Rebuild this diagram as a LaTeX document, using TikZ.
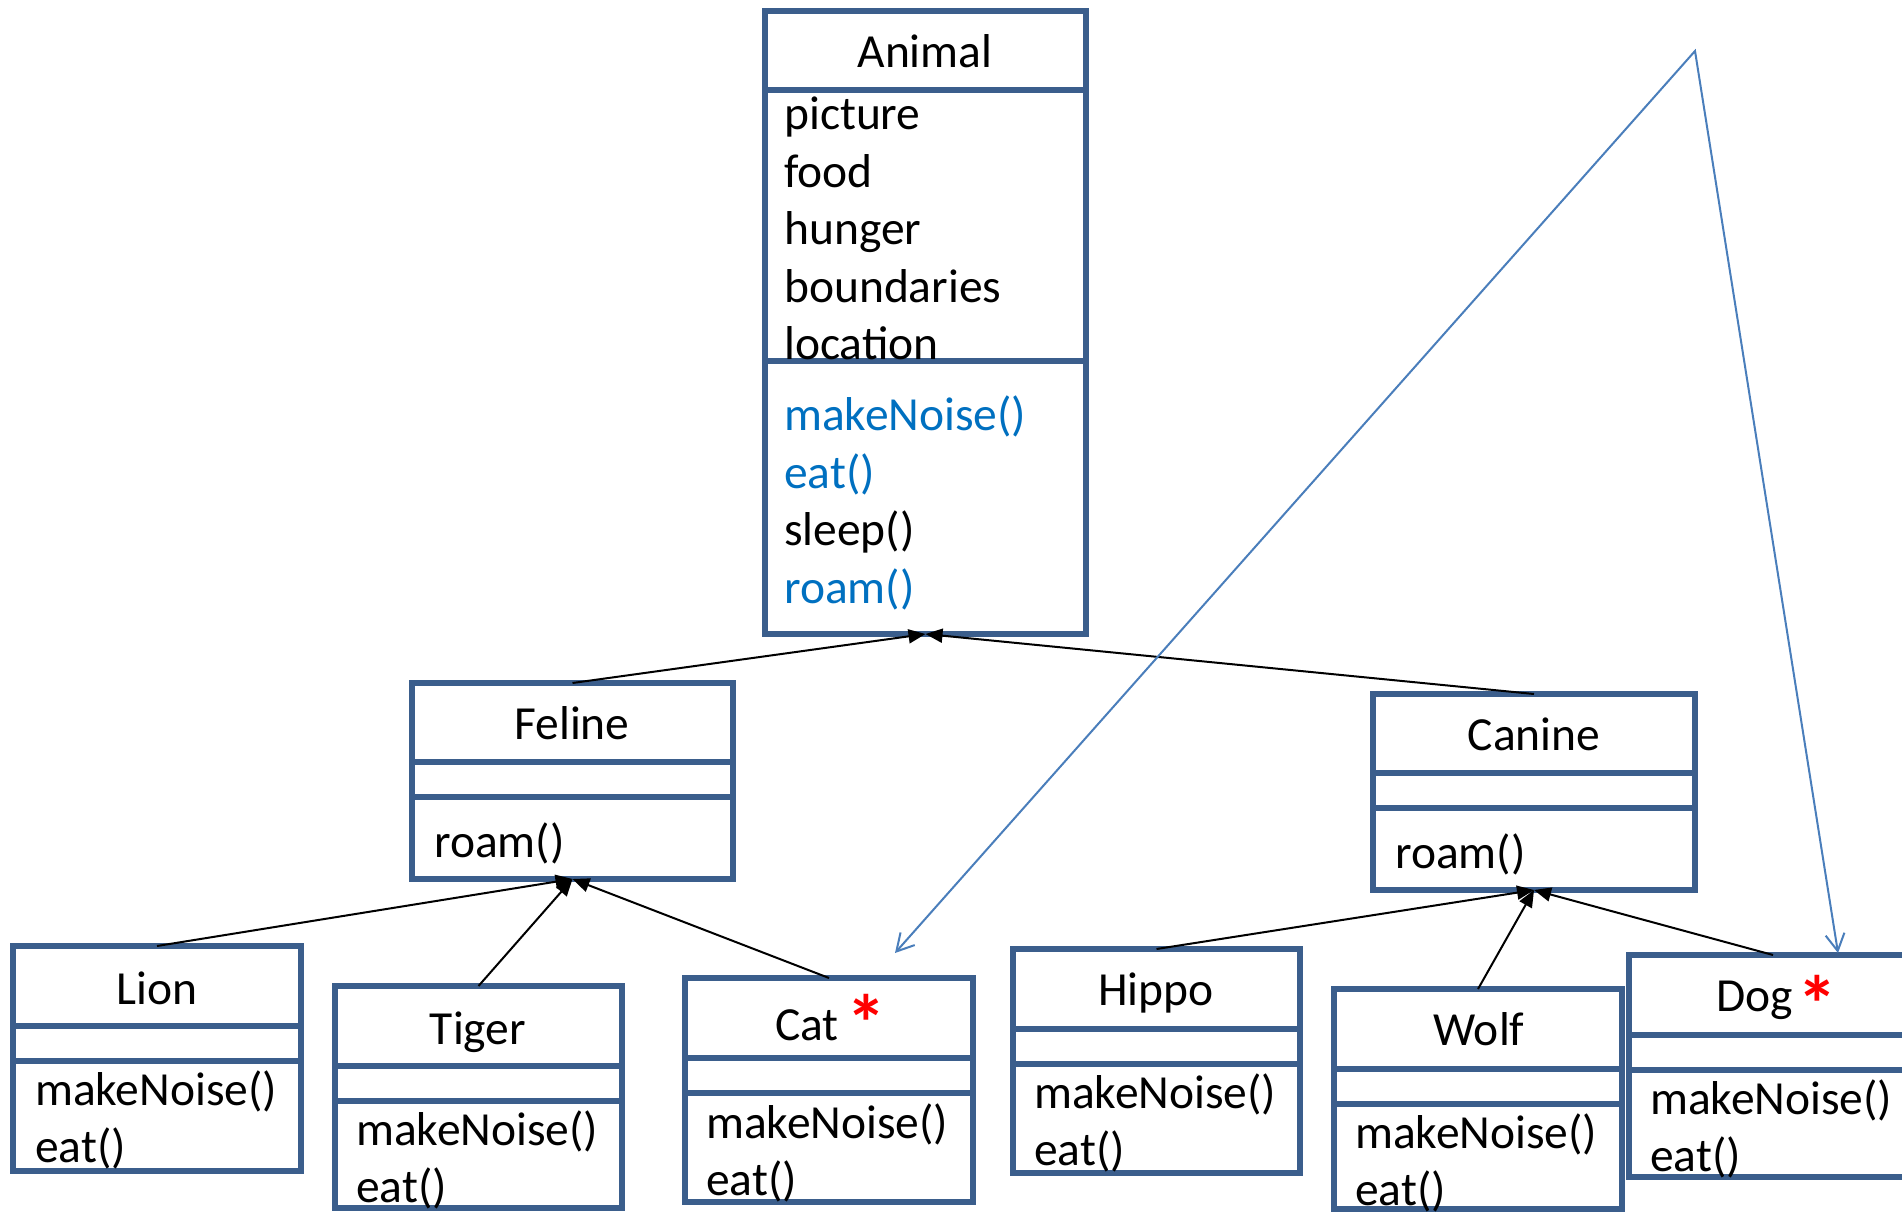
\documentclass[tikz,border=0pt]{standalone}
\usepackage{fontspec}
\setmainfont{Carlito}
\usetikzlibrary{arrows.meta}
\definecolor{boxblue}{RGB}{59,94,140}
\definecolor{linkblue}{RGB}{74,126,187}
\definecolor{opblue}{RGB}{0,112,192}

% a class: three stacked compartments (name, left, top, div1, div2, bottom, width)
\newcommand\umlbox[7]{%
  \node[compart, anchor=north west, minimum width=#7pt, minimum height={(#4-#3)*1pt}] (#1-h) at (#2,#3) {};
  \node[compart, anchor=north west, minimum width=#7pt, minimum height={(#5-#4)*1pt}] (#1-a) at (#2,#4) {};
  \node[compart, anchor=north west, minimum width=#7pt, minimum height={(#6-#5)*1pt}] (#1-m) at (#2,#5) {};
}

\begin{document}
\begin{tikzpicture}[x=1pt,y=-1pt,
  compart/.style={draw=boxblue, line width=5.5pt, fill=white, rectangle, inner sep=0pt, outer sep=0pt},
  txt/.style={inner sep=0pt, font=\fontsize{47.5}{57}\selectfont, text=black},
  op/.style={txt, text=opblue},
  mark star/.style={inner sep=0pt, font=\fontsize{80}{80}\selectfont\bfseries, text=red},
  inherit/.style={draw=black, line width=2pt, -{Triangle[length=17pt,width=14pt]}},
  note/.style={draw=linkblue, line width=2pt}
]
\useasboundingbox (0,0) rectangle (1902,1212);
\clip (0,0) rectangle (1902,1212);

% class boxes
\umlbox{animal}{765}{11}{90}{361}{634}{321}
\umlbox{feline}{412}{683}{762}{797}{879}{321}
\umlbox{canine}{1373}{694}{773}{808}{890}{322}
\umlbox{lion}{13}{946}{1026}{1061}{1171}{288}
\umlbox{tiger}{335}{986}{1066}{1101}{1208}{287}
\umlbox{cat}{685}{978}{1058}{1093}{1202}{288}
\umlbox{hippo}{1013}{949}{1029}{1064}{1173}{287}
\umlbox{wolf}{1334}{989}{1069}{1104}{1209}{288}
\umlbox{dog}{1629}{955}{1035}{1070}{1177}{288}

% inheritance links
\draw[inherit] (feline-h.north) -- (animal-m.south);
\draw[inherit] (canine-h.north) -- (animal-m.south);
\draw[inherit] (lion-h.north) -- (feline-m.south);
\draw[inherit] (tiger-h.north) -- (feline-m.south);
\draw[inherit] (cat-h.north) -- (feline-m.south);
\draw[inherit] (hippo-h.north) -- (canine-m.south);
\draw[inherit] (wolf-h.north) -- (canine-m.south);
\draw[inherit] (dog-h.north) -- (canine-m.south);

% pointer to the two starred classes
\coordinate (apex) at (1695,51);
\coordinate (cat-pt) at (895,953);
\coordinate (dog-pt) at (1838,953);
\draw[note, {Straight Barb[length=17pt,width=19pt]}-{Straight Barb[length=17pt,width=19pt]}] (cat-pt) -- (apex) -- (dog-pt);

\begin{scope}[shift={(0,2.5)}]
% Animal
\node[txt, anchor=base] (animal-t) at (925,65) {Animal};
\node[txt, anchor=base west] (animal-a1) at (784,127) {picture};
\node[txt, anchor=base west] (animal-a2) at (784,184.5) {food};
\node[txt, anchor=base west] (animal-a3) at (784,242) {hunger};
\node[txt, anchor=base west] (animal-a4) at (784,299.5) {boundaries};
\node[txt, anchor=base west] (animal-a5) at (784,357) {location};
\node[op, anchor=base west] (animal-m1) at (784,428) {makeNoise()};
\node[op, anchor=base west] (animal-m2) at (784,485.5) {eat()};
\node[txt, anchor=base west] (animal-m3) at (784,543) {sleep()};
\node[op, anchor=base west] (animal-m4) at (784,600.5) {roam()};

% Feline and Canine
\node[txt, anchor=base] (feline-t) at (572,737) {Feline};
\node[txt, anchor=base west] (feline-m1) at (434,855) {roam()};
\node[txt, anchor=base] (canine-t) at (1534,748) {Canine};
\node[txt, anchor=base west] (canine-m1) at (1395,866) {roam()};

% leaf classes
\node[txt, anchor=base] (lion-t) at (157,1002) {Lion};
\node[txt, anchor=base west] (lion-m1) at (35,1103) {makeNoise()};
\node[txt, anchor=base west] (lion-m2) at (35,1160) {eat()};

\node[txt, anchor=base] (tiger-t) at (478,1042) {Tiger};
\node[txt, anchor=base west] (tiger-m1) at (356,1143) {makeNoise()};
\node[txt, anchor=base west] (tiger-m2) at (356,1200) {eat()};

\node[txt, anchor=base] (cat-t) at (807,1038) {Cat};
\node[mark star, anchor=base] (cat-s) at (866,1049) {*};
\node[txt, anchor=base west] (cat-m1) at (706,1136) {makeNoise()};
\node[txt, anchor=base west] (cat-m2) at (706,1193) {eat()};

\node[txt, anchor=base] (hippo-t) at (1156,1003) {Hippo};
\node[txt, anchor=base west] (hippo-m1) at (1034,1106) {makeNoise()};
\node[txt, anchor=base west] (hippo-m2) at (1034,1163) {eat()};

\node[txt, anchor=base] (wolf-t) at (1479,1043) {Wolf};
\node[txt, anchor=base west] (wolf-m1) at (1355,1146) {makeNoise()};
\node[txt, anchor=base west] (wolf-m2) at (1355,1203) {eat()};

\node[txt, anchor=base] (dog-t) at (1755,1009) {Dog};
\node[mark star, anchor=base] (dog-s) at (1817,1030) {*};
\node[txt, anchor=base west] (dog-m1) at (1650,1112) {makeNoise()};
\node[txt, anchor=base west] (dog-m2) at (1650,1169) {eat()};
\end{scope}
\end{tikzpicture}
\end{document}
